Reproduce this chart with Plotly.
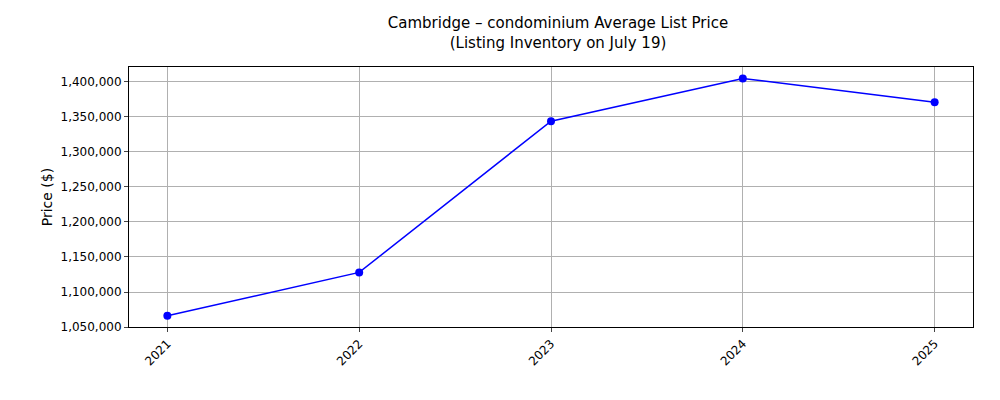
import plotly.graph_objects as go

years = [2021, 2022, 2023, 2024, 2025]
avg_price = [1066000, 1128000, 1344000, 1405000, 1371000]
tick_vals = [1050000, 1100000, 1150000, 1200000, 1250000, 1300000, 1350000, 1400000]

fig = go.Figure(go.Scatter(
    x=years, y=avg_price, mode="lines+markers",
    line=dict(color="blue", width=1.5),
    marker=dict(color="blue", size=8),
))

fig.update_layout(
    width=1000, height=400,
    paper_bgcolor="white", plot_bgcolor="white",
    font=dict(family="DejaVu Sans", size=12, color="black"),
    title=dict(text="Cambridge – condominium Average List Price<br>(Listing Inventory on July 19)",
               x=0.55, xanchor="center", y=0.95, font=dict(size=15)),
    margin=dict(l=121, r=35, t=59, b=81),
    showlegend=False,
)
fig.update_xaxes(
    range=[2020.8, 2025.2], tickvals=years, tickangle=-45,
    showgrid=True, gridcolor="#b0b0b0", showline=True, linecolor="black",
    mirror=True, ticks="outside", ticklen=4, zeroline=False,
)
fig.update_yaxes(
    range=[1050000, 1421400], tickvals=tick_vals, tickformat=",d",
    title_text="Price ($)", title_standoff=4,
    showgrid=True, gridcolor="#b0b0b0", showline=True, linecolor="black",
    mirror=True, ticks="outside", ticklen=4, zeroline=False,
)

fig.write_html("out.html")
